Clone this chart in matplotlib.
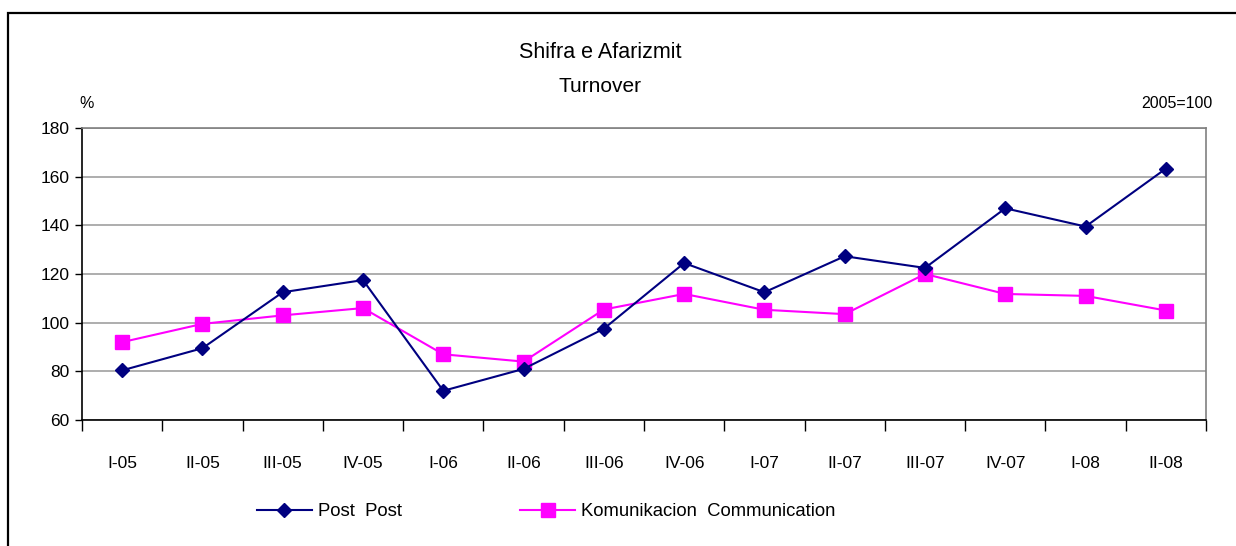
import matplotlib
matplotlib.use("Agg")
import matplotlib.pyplot as plt
from matplotlib.patches import Rectangle
from matplotlib import font_manager

names = {f.name for f in font_manager.fontManager.ttflist}
FONT = ['Liberation Sans Narrow', 'Liberation Sans', 'DejaVu Sans'] if 'Liberation Sans Narrow' in names else ['Liberation Sans', 'DejaVu Sans']
plt.rcParams['font.family'] = FONT

categories = ["I-05", "II-05", "III-05", "IV-05", "I-06", "II-06", "III-06", "IV-06",
              "I-07", "II-07", "III-07", "IV-07", "I-08", "II-08"]
post = [80.4, 89.5, 112.5, 117.5, 72.0, 81.0, 97.5, 124.5, 112.5, 127.3, 122.5, 147.0, 139.5, 163.3]
komunikacion = [92.0, 99.5, 103.0, 106.0, 87.0, 84.0, 105.4, 111.8, 105.3, 103.5, 120.0, 111.8, 111.0, 105.0]
y_ticks = [60, 80, 100, 120, 140, 160, 180]

W, H = 1236, 546
fig = plt.figure(figsize=(W / 100, H / 100), dpi=100)
fig.patch.set_facecolor('white')

# outer border (bottom edge cut off by the image)
fig.add_artist(Rectangle((8 / W, -0.05), (W - 8) / W + 0.01, (H - 13) / H + 0.05, transform=fig.transFigure,
                         fill=False, edgecolor='black', linewidth=1.6))

ax = fig.add_axes([82 / W, 1 - 420 / H, (1206 - 82) / W, (420 - 128) / H])
x = list(range(len(categories)))
ax.plot(x, post, color='#000080', marker='D', markersize=7.5, linewidth=1.5, label='Post  Post', zorder=3)
ax.plot(x, komunikacion, color='#FF00FF', marker='s', markersize=9.5, linewidth=1.5,
        label='Komunikacion  Communication', zorder=2)

ax.set_xlim(-0.5, len(categories) - 0.5)
ax.set_ylim(60, 180)
ax.set_yticks(y_ticks)
ax.set_yticklabels([str(v) for v in y_ticks], fontsize=12.5)
ax.yaxis.grid(True, color='#a0a0a0', linewidth=1.2)
ax.set_axisbelow(True)

ax.set_xticks([i + 0.5 for i in range(-1, len(categories))])
ax.set_xticklabels([])
ax.set_xticks(x, minor=True)
ax.set_xticklabels(categories, minor=True, fontsize=12.5)
ax.tick_params(axis='x', which='major', direction='out', length=8, width=1, color='black')
ax.tick_params(axis='x', which='minor', length=0, pad=26)
ax.tick_params(axis='y', direction='out', length=5, width=1, color='black', pad=4)

for s in ['left', 'bottom']:
    ax.spines[s].set_color('black')
    ax.spines[s].set_linewidth(1.2)
for s in ['top', 'right']:
    ax.spines[s].set_color('#808080')
    ax.spines[s].set_linewidth(1.2)

fig.text(600 / W, 1 - 52 / H, 'Shifra e Afarizmit', ha='center', va='center', fontsize=15.5)
fig.text(600 / W, 1 - 86 / H, 'Turnover', ha='center', va='center', fontsize=15)
fig.text(87 / W, 1 - 103 / H, '%', ha='center', va='center', fontsize=11.5)
fig.text(1212 / W, 1 - 103 / H, '2005=100', ha='right', va='center', fontsize=11.5)

leg = fig.legend(loc='center left', bbox_to_anchor=(240 / W, 1 - 512 / H), ncol=2, frameon=False,
                 fontsize=13.3, columnspacing=6.4, handlelength=3.0, handletextpad=0.3)

fig.savefig('out.png', dpi=100)
